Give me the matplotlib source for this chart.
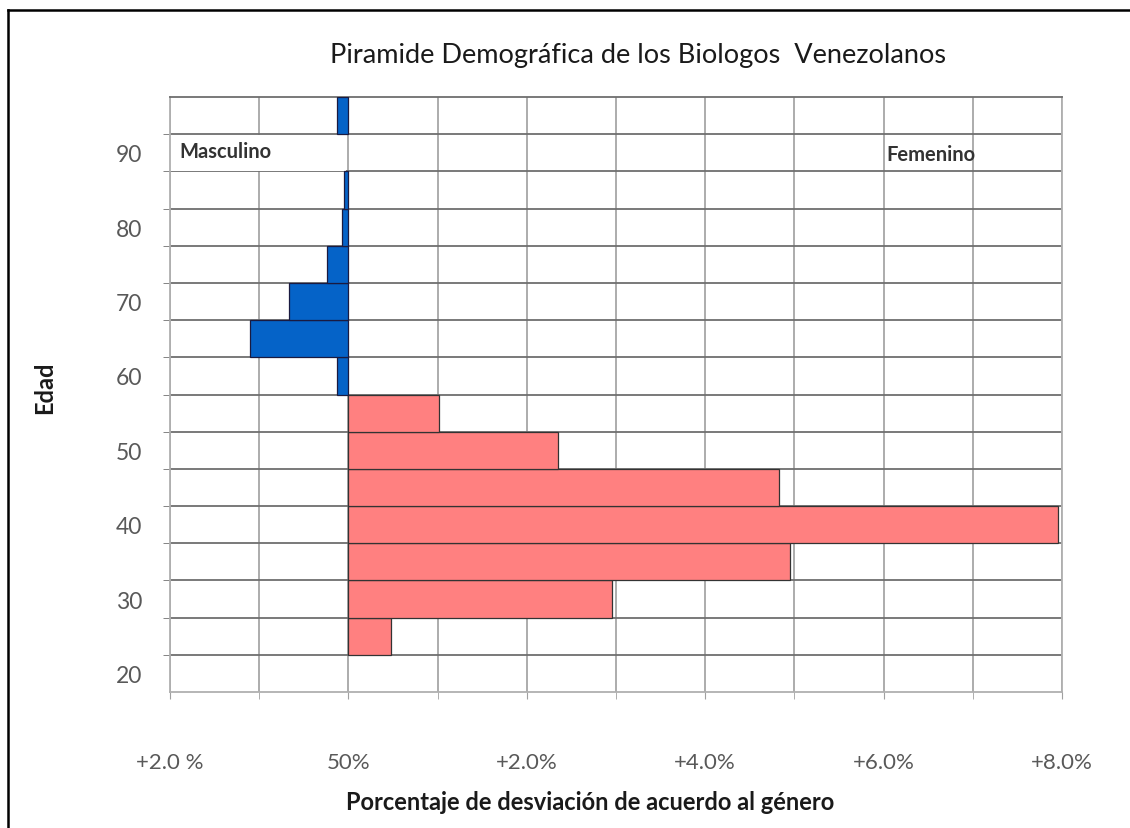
import matplotlib
matplotlib.use('Agg')
import matplotlib.pyplot as plt
from matplotlib.lines import Line2D
from matplotlib.patches import Rectangle

plt.rcParams['font.family'] = ['Lato', 'DejaVu Sans']

# age bins (centres, 5-year wide) and deviation in percent
edades = [20, 25, 30, 35, 40, 45, 50, 55, 60, 65, 70, 75, 80, 85, 90, 95]
femenino = [0, 0.48, 2.96, 4.95, 7.95, 4.83, 2.35, 1.02, 0, 0, 0, 0, 0, 0, 0, 0]
masculino = [0, 0, 0, 0, 0, 0, 0, 0, -0.13, -1.1, -0.67, -0.24, -0.07, -0.05, 0, -0.13]

xticks = [-2, 0, 2, 4, 6, 8]
xlabels = ['+2.0 %', '50%', '+2.0%', '+4.0%', '+6.0%', '+8.0%']
yticks = [20, 30, 40, 50, 60, 70, 80, 90]

fig = plt.figure(figsize=(11.3, 8.29), dpi=100)
ax = fig.add_axes([170/1130, 1-693/829, 892/1130, 595/829])

# skip empty bins so no outline is drawn on the zero line
f_y = [e for e, v in zip(edades, femenino) if v != 0]
f_v = [v for v in femenino if v != 0]
m_y = [e for e, v in zip(edades, masculino) if v != 0]
m_v = [v for v in masculino if v != 0]
ax.barh(f_y, f_v, height=5, color='#ff8080', edgecolor='#333333', linewidth=0.9, zorder=3)
ax.barh(m_y, m_v, height=5, color='#0563c8', edgecolor='#1a1a40', linewidth=0.9, zorder=3)

ax.set_xlim(-2, 8)
ax.set_ylim(17.5, 97.5)

ax.set_xticks(xticks)
ax.set_xticklabels(xlabels)
ax.set_xticks(range(-2, 9), minor=True)
ax.set_yticks(yticks)
ax.set_yticks([22.5 + 5*i for i in range(15)], minor=True)

ax.tick_params(axis='x', which='both', length=5, color='#a0a0a0', pad=38, labelsize=16, labelcolor='#595959')
ax.tick_params(axis='y', which='major', length=0, pad=20, labelsize=16.5, labelcolor='#595959')
ax.tick_params(axis='y', which='minor', length=5, color='#707070')

ax.grid(axis='x', which='both', color='#a6a6a6', linewidth=1.3, zorder=0)
ax.grid(axis='y', which='minor', color='#6e6e6e', linewidth=1.3, zorder=0)
ax.grid(axis='y', which='major', visible=False)
ax.set_axisbelow(True)

for s in ['left', 'bottom', 'right']:
    ax.spines[s].set_color('#b0b0b0')
    ax.spines[s].set_linewidth(1.3)
ax.spines['top'].set_color('#6e6e6e')
ax.spines['top'].set_linewidth(1.3)

# white patch behind the "Masculino" label
ax.add_patch(Rectangle((-2, 87.6), 1.97, 4.8, facecolor='white', edgecolor='none', zorder=2))
ax.text(-1.9, 90.3, 'Masculino', fontsize=14.5, fontweight='bold', color='#333333', va='center', zorder=4)
ax.text(6.03, 89.8, 'Femenino', fontsize=14.5, fontweight='bold', color='#333333', va='center', zorder=4)

fig.text(638/1130, 1-55/829, 'Piramide Demográfica de los Biologos  Venezolanos',
         fontsize=19.5, ha='center', va='center', color='#1a1a1a')
fig.text(590/1130, 1-803/829, 'Porcentaje de desviación de acuerdo al género',
         fontsize=17, fontweight='bold', ha='center', va='center', color='#1a1a1a')
fig.text(45/1130, 1-388/829, 'Edad', fontsize=17, fontweight='bold', rotation=90,
         ha='center', va='center', color='#1a1a1a')

# outer frame (top and left edges)
fig.add_artist(Line2D([8/1130, 1], [1-11/829, 1-11/829], color='black', linewidth=1.8))
fig.add_artist(Line2D([8/1130, 8/1130], [0, 1-11/829], color='black', linewidth=1.8))

fig.savefig('out.png', dpi=100)
